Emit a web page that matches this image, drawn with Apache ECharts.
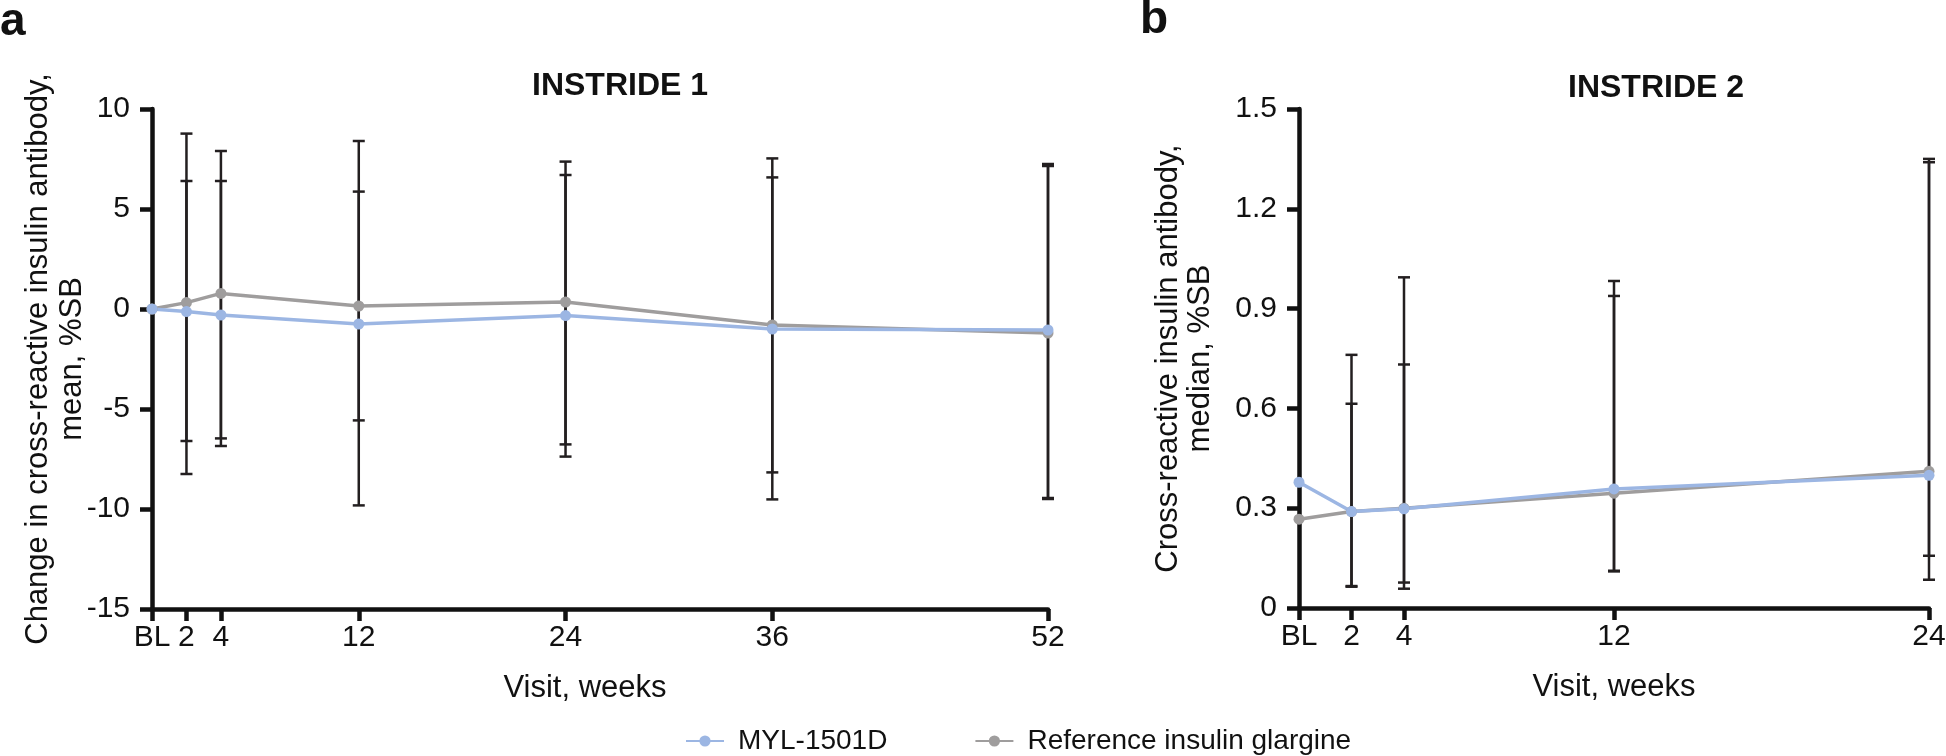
<!DOCTYPE html>
<html>
<head>
<meta charset="utf-8">
<script src="https://cdn.jsdelivr.net/npm/echarts@6/dist/echarts.min.js"></script>
<style>
html,body{margin:0;padding:0;background:#fff;}
#chart{width:1946px;height:756px;}
</style>
</head>
<body>
<div id="chart"></div>
<script>
// ---------- data ----------
const weeks1 = [0, 2, 4, 12, 24, 36, 52];
const myl1Mean = [0, -0.13, -0.3, -0.75, -0.33, -1.0, -1.05];
const ref1Mean = [0, 0.32, 0.78, 0.15, 0.35, -0.8, -1.2];
const myl1Upper = [null, 6.4, 6.4, 8.4, 6.7, 7.53, 7.25];
const myl1Lower = [null, -6.6, -6.85, -9.82, -7.38, -9.52, -9.45];
const ref1Upper = [null, 8.77, 7.9, 5.87, 7.37, 6.58, 7.15];
const ref1Lower = [null, -8.25, -6.47, -5.57, -6.77, -8.17, -9.5];

const weeks2 = [0, 2, 4, 12, 24];
const myl2Median = [0.378, 0.29, 0.298, 0.358, 0.399];
const ref2Median = [0.267, 0.29, 0.30, 0.345, 0.411];
const myl2Upper = [null, 0.761, 0.994, 0.983, 1.35];
const myl2Lower = [null, 0.064, 0.058, 0.11, 0.085];
const ref2Upper = [null, 0.614, 0.732, 0.938, 1.34];
const ref2Lower = [null, 0.066, 0.0765, 0.112, 0.157];

const xTicks1 = [0, 2, 4, 12, 24, 36, 52];
const xTicks2 = [0, 2, 4, 12, 24];
const seriesNames = ['MYL-1501D', 'Reference insulin glargine'];
const titles = ['INSTRIDE 1', 'INSTRIDE 2'];
const panelLabels = ['a', 'b'];
const yTitles = ['Change in cross-reactive insulin antibody,\nmean, %SB',
                 'Cross-reactive insulin antibody,\nmedian, %SB'];
const xTitle = 'Visit, weeks';

// ---------- style ----------
const FONT = '"Liberation Sans", Arial, Helvetica, sans-serif';
const BLUE = '#9cb6e3';
const GRAY = '#9f9d9d';
const INK = '#111111';
const BAR = '#231f20';

const pts = (xs, ys) => xs.map((x, i) => [x, ys[i]]);
const bars = (xs, lo, hi) => xs.map((x, i) => [x, lo[i], hi[i]]).filter(d => d[1] != null && d[2] != null);

function errRender(params, api) {
  const x = api.value(0), lo = api.value(1), hi = api.value(2);
  const a = api.coord([x, hi]), b = api.coord([x, lo]);
  const w = 6;
  const st = { stroke: BAR, lineWidth: 2.5 };
  return {
    type: 'group',
    children: [
      { type: 'line', shape: { x1: a[0], y1: a[1], x2: b[0], y2: b[1] }, style: st },
      { type: 'line', shape: { x1: a[0] - w, y1: a[1], x2: a[0] + w, y2: a[1] }, style: st },
      { type: 'line', shape: { x1: b[0] - w, y1: b[1], x2: b[0] + w, y2: b[1] }, style: st }
    ]
  };
}

function xAxisCfg(idx, ticks, max, namePad) {
  return {
    type: 'value', gridIndex: idx, min: 0, max: max,
    name: xTitle, nameLocation: 'middle', nameGap: 64, nameMoveOverlap: false,
    nameTextStyle: { fontFamily: FONT, fontSize: 31, color: INK, padding: namePad },
    axisLine: { show: true, onZero: false, lineStyle: { color: INK, width: 4.5 } },
    axisTick: { show: true, length: 12, lineStyle: { color: INK, width: 4.5 }, customValues: ticks },
    axisLabel: { show: true, margin: 14, fontFamily: FONT, fontSize: 30, color: INK,
      customValues: ticks, formatter: v => (v === 0 ? 'BL' : String(v)) },
    splitLine: { show: false }
  };
}
function yAxisCfg(idx, min, max, interval, name, gap, lh) {
  return {
    type: 'value', gridIndex: idx, min: min, max: max, interval: interval,
    name: name, nameLocation: 'middle', nameRotate: 90, nameGap: gap, nameMoveOverlap: false,
    nameTextStyle: { fontFamily: FONT, fontSize: 31, color: INK, lineHeight: lh, align: 'center' },
    axisLine: { show: true, lineStyle: { color: INK, width: 4.5 } },
    axisTick: { show: true, length: 12, lineStyle: { color: INK, width: 4.5 } },
    axisLabel: { margin: 22, fontFamily: FONT, fontSize: 30, color: INK },
    splitLine: { show: false }
  };
}
function lineSeries(name, idx, data, color) {
  return {
    name: name, type: 'line', xAxisIndex: idx, yAxisIndex: idx, data: data,
    symbol: 'circle', symbolSize: 11, showSymbol: true, z: 5,
    lineStyle: { color: color, width: 3.5 }, itemStyle: { color: color },
    emphasis: { disabled: true }
  };
}
function errSeries(name, idx, data) {
  return {
    name: name, type: 'custom', xAxisIndex: idx, yAxisIndex: idx, data: data,
    renderItem: errRender, z: 2, clip: false, silent: true
  };
}

const chart = echarts.init(document.getElementById('chart'));
chart.setOption({
  animation: false,
  backgroundColor: '#ffffff',
  textStyle: { fontFamily: FONT },
  grid: [
    { left: 152, top: 109, width: 896, height: 500, containLabel: false, outerBoundsMode: 'none' },
    { left: 1299, top: 109, width: 630, height: 499, containLabel: false, outerBoundsMode: 'none' }
  ],
  xAxis: [ xAxisCfg(0, xTicks1, 52, [0, 30, 0, 0]), xAxisCfg(1, xTicks2, 24, [0, 0, 0, 0]) ],
  yAxis: [ yAxisCfg(0, -15, 10, 5, yTitles[0], 63, 34), yAxisCfg(1, 0, 1.5, 0.3, yTitles[1], 83, 32) ],
  legend: {
    data: seriesNames, left: 680, top: 722, itemWidth: 38, itemHeight: 14, itemGap: 87,
    textStyle: { fontFamily: FONT, fontSize: 28, color: INK, padding: [0, 0, 0, 9] },
    selectedMode: false
  },
  graphic: [
    { type: 'text', x: 620, y: 86, style: { text: titles[0], fontFamily: FONT, fontSize: 32, fontWeight: 'bold', fill: INK, textAlign: 'center', textVerticalAlign: 'middle' } },
    { type: 'text', x: 1656, y: 88, style: { text: titles[1], fontFamily: FONT, fontSize: 32, fontWeight: 'bold', fill: INK, textAlign: 'center', textVerticalAlign: 'middle' } },
    { type: 'text', x: 0, y: 22, style: { text: panelLabels[0], fontFamily: FONT, fontSize: 46, fontWeight: 'bold', fill: INK, textAlign: 'left', textVerticalAlign: 'middle' } },
    { type: 'text', x: 1140, y: 20, style: { text: panelLabels[1], fontFamily: FONT, fontSize: 46, fontWeight: 'bold', fill: INK, textAlign: 'left', textVerticalAlign: 'middle' } }
  ],
  series: [
    errSeries('err-myl-1', 0, bars(weeks1, myl1Lower, myl1Upper)),
    errSeries('err-ref-1', 0, bars(weeks1, ref1Lower, ref1Upper)),
    lineSeries(seriesNames[1], 0, pts(weeks1, ref1Mean), GRAY),
    lineSeries(seriesNames[0], 0, pts(weeks1, myl1Mean), BLUE),
    errSeries('err-myl-2', 1, bars(weeks2, myl2Lower, myl2Upper)),
    errSeries('err-ref-2', 1, bars(weeks2, ref2Lower, ref2Upper)),
    lineSeries(seriesNames[1], 1, pts(weeks2, ref2Median), GRAY),
    lineSeries(seriesNames[0], 1, pts(weeks2, myl2Median), BLUE)
  ]
});
</script>
</body>
</html>
